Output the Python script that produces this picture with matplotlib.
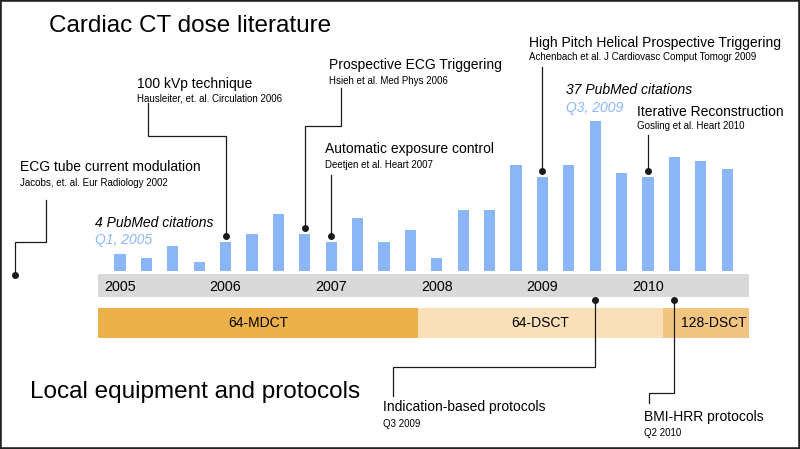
import matplotlib.pyplot as plt
from matplotlib.patches import Rectangle

plt.rcParams['font.family'] = ['Liberation Sans', 'DejaVu Sans']

# PubMed citations per quarter, Q1 2005 .. Q4 2010
citations = [4, 3, 6, 2,
             7, 9, 14, 9,
             7, 13, 7, 10,
             3, 15, 15, 26,
             23, 26, 37, 24,
             23, 28, 27, 25]
years = ['2005', '2006', '2007', '2008', '2009', '2010']

# equipment periods on the quarter axis
equip_names = ['64-MDCT', '64-DSCT', '128-DSCT']
equip_start = [-0.83, 11.3, 20.55]
equip_end = [11.3, 20.55, 23.82]
equip_colors = ['#edb14b', '#f9e0b9', '#f1c580']

# literature milestones: (title, reference, quarter index of the bar)
lit_titles = ['100 kVp technique', 'Prospective ECG Triggering',
              'Automatic exposure control',
              'High Pitch Helical Prospective Triggering',
              'Iterative Reconstruction']
lit_refs = ['Hausleiter, et. al. Circulation 2006', 'Hsieh et al. Med Phys 2006',
            'Deetjen et al. Heart 2007',
            'Achenbach et al. J Cardiovasc Comput Tomogr 2009',
            'Gosling et al. Heart 2010']
lit_quarter = [4, 7, 8, 16, 20]

# local protocol changes
proto_titles = ['Indication-based protocols', 'BMI-HRR protocols']
proto_dates = ['Q3 2009', 'Q2 2010']
proto_quarter = [18, 21]

BLUE = '#8ab6f8'

# layout: pixel of quarter 0 centre / px per quarter, baseline / px per citation
X0, DX = 120.0, 26.4
Y0, DY = 270.5, 4.05
W, H = 800, 449


def P(x, y):
    """pixel position -> data position"""
    return (x - X0) / DX, (Y0 - y) / DY


def px_x(x):
    return (x - X0) / DX


def px_y(y):
    return (Y0 - y) / DY


fig = plt.figure(figsize=(8, 4.49), dpi=100)
ax = fig.add_axes([0, 0, 1, 1])
ax.set_xlim(px_x(0), px_x(W))
ax.set_ylim(px_y(H), px_y(0))
ax.axis('off')

# bars
q = list(range(len(citations)))
ax.bar(q, citations, width=0.42, color=BLUE, zorder=2)

# gray timeline band with year labels
ax.add_patch(Rectangle((equip_start[0], px_y(297)), equip_end[-1] - equip_start[0],
                       px_y(274) - px_y(297), color='#d9d9d9', lw=0, zorder=1))
for i, yr in enumerate(years):
    ax.text(i * 4, px_y(287), yr, ha='center', va='center', fontsize=10.3)

# equipment bands
for name, s, e, c in zip(equip_names, equip_start, equip_end, equip_colors):
    ax.add_patch(Rectangle((s, px_y(337.5)), e - s, px_y(307.5) - px_y(337.5),
                           color=c, lw=0, zorder=1))
    ax.text((s + e) / 2 + (0.3 if name == '128-DSCT' else 0), px_y(323), name,
            ha='center', va='center', fontsize=10)

# titles
ax.text(*P(49, 32.5), 'Cardiac CT dose literature', fontsize=17.5, va='baseline')
ax.text(*P(30, 398), 'Local equipment and protocols', fontsize=17.5, va='baseline')

# PubMed callouts
ax.text(*P(95, 227), '4 PubMed citations', fontsize=10, style='italic', va='baseline')
ax.text(*P(95, 244), 'Q1, 2005', fontsize=10, style='italic', color=BLUE, va='baseline')
ax.text(*P(566, 93.5), '37 PubMed citations', fontsize=10, style='italic', va='baseline')
ax.text(*P(566, 112), 'Q3, 2009', fontsize=10, style='italic', color=BLUE, va='baseline')

LC = '#1a1a1a'
LW = 0.9


def leader(points, dot):
    xs = [p[0] for p in points]
    ys = [p[1] for p in points]
    ax.plot(xs, ys, color=LC, lw=LW, zorder=3, solid_joinstyle='miter')
    ax.plot(*dot, 'o', color=LC, ms=4, zorder=3)


# ECG tube current modulation (2002, off the time axis)
ax.text(*P(20, 171), 'ECG tube current modulation', fontsize=10, va='baseline')
ax.text(*P(20, 185.5), 'Jacobs, et. al. Eur Radiology 2002', fontsize=7, va='baseline')
leader([P(45.7, 200), P(45.7, 241.7), P(15, 241.7), P(15, 275)], P(15, 275))

# literature milestones pointing at bars
text_pos = [(137, 88, 102), (329, 69, 83.5), (325, 153, 167.5),
            (529, 47, 60.5), (637, 116, 129)]
elbows = [[P(147.7, 103), P(147.7, 135.7)],
          [P(340.7, 88.3), P(340.7, 126)],
          [P(331, 175)],
          [P(541.7, 66.5)],
          [P(646.7, 135)]]
for t, r, qi, tp, el in zip(lit_titles, lit_refs, lit_quarter, text_pos, elbows):
    ax.text(*P(tp[0], tp[1]), t, fontsize=10, va='baseline')
    ax.text(*P(tp[0], tp[2]), r, fontsize=7, va='baseline')
    dot = (qi, citations[qi] + 1.5)
    pts = list(el)
    if len(pts) == 2:
        pts.append((qi, pts[-1][1]))
    else:
        pts[0] = (qi, pts[0][1])
    pts.append(dot)
    leader(pts, dot)

# local protocols below the equipment band
ptext = [(383, 411.5, 427), (644, 421, 435.5)]
pbends = [(367.3, 392.7, 396), (393.3, 649.3, 403.3)]
for t, d, qi, tp, b in zip(proto_titles, proto_dates, proto_quarter, ptext, pbends):
    ax.text(*P(tp[0], tp[1]), t, fontsize=10, va='baseline')
    ax.text(*P(tp[0], tp[2]), d, fontsize=7, va='baseline')
    dot = (qi, px_y(300))
    pts = [dot, (qi, px_y(b[0])), (px_x(b[1]), px_y(b[0])), (px_x(b[1]), px_y(b[2]))]
    leader(pts, dot)

# frame
fig.patches.append(Rectangle((0, 0), 1, 1, transform=fig.transFigure,
                             fill=False, lw=2.6, ec='#222222'))

fig.savefig('out.png', dpi=100)
